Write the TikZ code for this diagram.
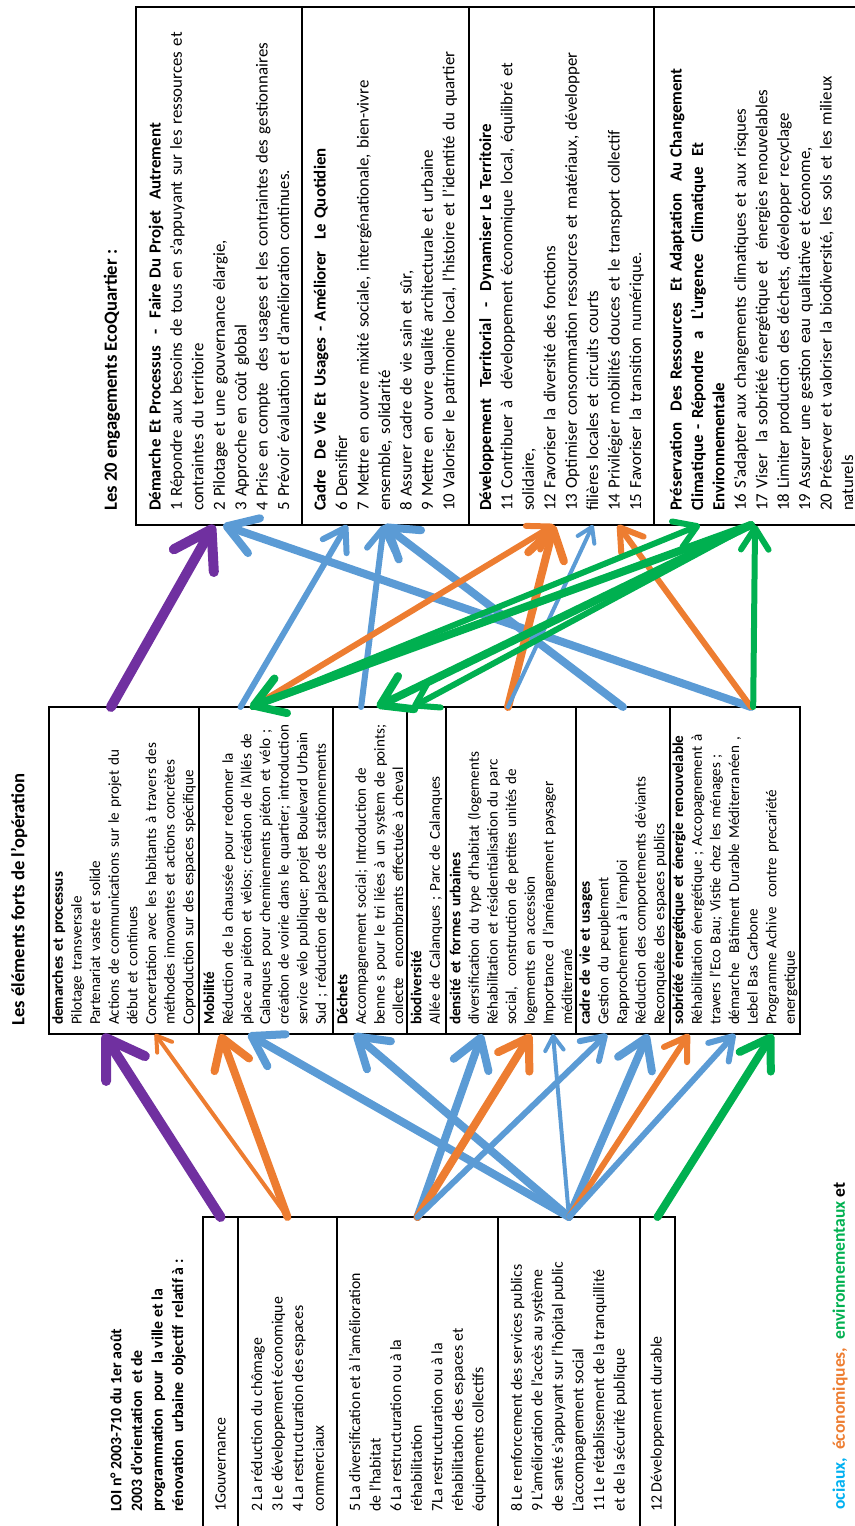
\documentclass[tikz,border=0pt]{standalone}
\usepackage{fontspec}
\setmainfont{Carlito}
\usetikzlibrary{positioning,calc,arrows.meta}
\newlength{\pxu}
\setlength{\pxu}{0.2mm}
\definecolor{purp}{HTML}{7030A0}
\definecolor{blu}{HTML}{5B9BD5}
\definecolor{oran}{HTML}{ED7D31}
\definecolor{gree}{HTML}{00B050}
\definecolor{skyb}{HTML}{00B0F0}
\newcommand\engfont{\fontsize{9.6}{12.2}\selectfont}
\newcommand\opfont{\fontsize{8.6}{10.6}\selectfont}
\newcommand\loifont{\fontsize{9}{11.7}\selectfont}
\tikzset{
  link/.style={-{Straight Barb[round,length=0pt 3.6,width=0pt 4.6]}, line cap=round},
  wfat/.style={line width=10\pxu},
  wbig/.style={line width=8\pxu},
  wmed/.style={line width=6\pxu},
  wsmall/.style={line width=4\pxu}
}

\begin{document}
\begin{tikzpicture}[x=0.2mm, y=0.2mm, rotate=90, transform shape,
  cell/.style={draw, line width=0.7pt, anchor=north west, outer sep=0pt, align=left},
  engcell/.style={cell, minimum width=518\pxu, inner xsep=14\pxu, inner ysep=0pt, text width=490\pxu, font=\engfont},
  opcell/.style={cell, minimum width=327\pxu, inner xsep=9\pxu, inner ysep=0pt, text width=309\pxu, font=\opfont},
  loibox/.style={draw, line width=0.8pt, anchor=north east, outer sep=0pt, minimum width=330\pxu},
  loitext/.style={anchor=west, align=left, inner sep=0pt, font=\loifont},
  heading/.style={anchor=west, inner sep=0pt, font=\fontsize{10.6}{12}\selectfont\bfseries}]

  \useasboundingbox (0,0) rectangle (1526,854);

  % ENGAGEMENTS ECOQUARTIER

  \node[heading] (engtitle) at (1015,742) {Les 20 engagements EcoQuartier :};

  \node[engcell, minimum height=166\pxu] (eng1) at (1001,718)
  {\textbf{Démarche Et Processus \ - \ Faire Du Projet \ Autrement}\\
   1 Répondre aux besoins de tous en s’appuyant sur les ressources et\\
   contraintes du territoire\\
   2 Pilotage et une gouvernance élargie,\\
   3 Approche en coût global\\
   4 Prise en compte \ des usages et les contraintes des gestionnaires\\
   5 Prévoir évaluation et d’amélioration continues.};

  \node[engcell, minimum height=167\pxu, below=0pt of eng1] (eng2)
  {\textbf{Cadre \ De Vie Et Usages - Améliorer \ Le Quotidien}\\
   6 Densifier\\
   7 Mettre en ouvre mixité sociale, intergénationale, bien-vivre\\
   ensemble, solidarité\\
   8 Assurer cadre de vie sain et sûr,\\
   9 Mettre en ouvre qualité architecturale et urbaine\\
   10 Valoriser le patrimoine local, l’histoire et l’identité du quartier};

  \node[engcell, minimum height=185\pxu, below=0pt of eng2] (eng3)
  {\textbf{Développement \ Territorial \ - \ Dynamiser Le Territoire}\\
   11 Contribuer à \ développement économique local, équilibré et\\
   solidaire,\\
   12 Favoriser la diversité des fonctions\\
   13 Optimiser consommation ressources et matériaux, développer\\
   filières locales et circuits courts\\
   14 Privilégier mobilités douces et le transport collectif\\
   15 Favoriser la transition numérique.};

  \node[engcell, minimum height=215\pxu, below=0pt of eng3] (eng4)
  {\textbf{Préservation \ Des Ressources \ Et Adaptation \ Au Changement}\\
   \textbf{Climatique - Répondre \ a \ L’urgence \ Climatique \ Et}\\
   \textbf{Environnementale}\\
   16 S’adapter aux changements climatiques et aux risques\\
   17 Viser \ la sobriété énergétique et \ énergies renouvelables\\
   18 Limiter production des déchets, développer recyclage\\
   19 Assurer une gestion eau qualitative et économe,\\
   20 Préserver et valoriser la biodiversité, les sols et les milieux\\
   naturels};

  % ELEMENTS FORTS DE L'OPERATION

  \node[heading] (optitle) at (500,835) {Les éléments forts de l’opération};

  \node[opcell, minimum height=150\pxu] (dem) at (492,805)
  {\textbf{demarches et processus}\\
   Pilotage transversale\\
   Partenariat vaste et solide\\
   Actions de communications sur le projet du\\
   début et continues\\
   Concertation avec les habitants à travers des\\
   méthodes innovantes et actions concrètes\\
   Coproduction sur des espaces spécifique};

  \node[opcell, minimum height=134\pxu, below=0pt of dem] (mob)
  {\textbf{Mobilité}\\
   Réduction de la chaussée pour redonner la\\
   place au piéton et vélos; création de l’Allés de\\
   Calanques pour cheminements piéton et vélo ;\\
   création de voirie dans le quartier; introduction\\
   service vélo publique; projet Boulevard Urbain\\
   Sud ; réduction de places de stationnements};

  \node[opcell, minimum height=74\pxu, below=0pt of mob] (dech)
  {\textbf{Déchets}\\
   Accompagnement social; Introduction de\\
   benne s pour le tri liées à un system de points;\\
   collecte \ encombrants effectuée à cheval};

  \node[opcell, minimum height=39\pxu, below=0pt of dech] (bio)
  {\textbf{biodiversité}\\
   Allée de Calanques ; Parc de Calanques};

  \node[opcell, minimum height=130\pxu, below=0pt of bio] (dens)
  {\textbf{densité et formes urbaines}\\
   diversification du type d’habitat (logements\\
   Réhabilitation et résidentialisation du parc\\
   social, \ construction de petites unités de\\
   logements en accession\\
   Importance d l’aménagement paysager\\
   méditerrané};

  \node[opcell, minimum height=94\pxu, below=0pt of dens] (cadre)
  {\textbf{cadre de vie et usages}\\
   Gestion du peuplement\\
   Rapprochement à l’emploi\\
   Réduction des comportements déviants\\
   Reconquête des espaces publics};

  \node[opcell, minimum height=130\pxu, below=0pt of cadre] (sobr)
  {\textbf{sobriété énergétique et énergie renouvelable}\\
   Réhabilitation énergétique ; Accopagnement à\\
   travers l’Eco Bau; Vistie chez les ménages ;\\
   démarche \ Bâtiment Durable Méditerranéen ,\\
   Lebel Bas Carbone\\
   Programme Achive \ contre precariété\\
   energetique};

  % LOI 2003-710

  \node[loitext, anchor=north west, font=\loifont\bfseries] (loititle) at (14,744)
  {LOI n° 2003-710 du 1er août\\
   2003 d’orientation \ et de\\
   programmation \ pour \ la ville et la\\
   rénovation \ urbaine \ objectif \ relatif à :};

  \node[loibox, minimum height=35\pxu] (obj1) at (309,651) {};
  \node[loibox, minimum height=99\pxu, below=0pt of obj1] (obj2) {};
  \node[loibox, minimum height=161\pxu, below=0pt of obj2] (obj3) {};
  \node[loibox, minimum height=142\pxu, below=0pt of obj3] (obj4) {};
  \node[loibox, minimum height=35\pxu, below=0pt of obj4] (obj5) {};

  \node[loitext] (objtxt1) at (14,633.5) {1Gouvernance};
  \node[loitext] (objtxt2) at (14,566.5)
  {2 La réduction du chômage\\
   3 Le développement économique\\
   4 La restructuration des espaces\\
   commerciaux};
  \node[loitext] (objtxt3) at (14,436.5)
  {5 La diversification et à l’amélioration\\
   de l’habitat\\
   6 La restructuration ou à la\\
   réhabilitation\\
   7La restructuration ou à la\\
   réhabilitation des espaces et\\
   équipements collectifs};
  \node[loitext] (objtxt4) at (14,285)
  {8 Le renforcement des services publics\\
   9 L’amélioration de l’accès au système\\
   de santé s’appuyant sur l’hôpital public\\
   L’accompagnement social\\
   11 Le rétablissement de la tranquillité\\
   et de la sécurité publique};
  \node[loitext] (objtxt5) at (14,196.5) {12 Développement durable};

  \node[heading, font=\fontsize{10}{12}\selectfont\bfseries] (legend) at (16,14)
  {\textcolor{skyb}{ociaux,} \ \textcolor{oran}{économiques,} \ \textcolor{gree}{environnementaux} et};

  % LOI -> OPERATION

  \draw[link, purp, wfat] (obj1.east) -- ($(dem.north west)!.363!(dem.south west)$);
  \draw[link, oran, wsmall] (obj2.east) -- ($(dem.north west)!.707!(dem.south west)$);
  \draw[link, oran, wbig] (obj2.east) -- ($(mob.north west)!.161!(mob.south west)$);
  \draw[link, blu, wbig] (obj4.east) -- ($(mob.north west)!.366!(mob.south west)$);
  \draw[link, blu, wbig] (obj4.east) -- ($(dech.north west)!.284!(dech.south west)$);
  \draw[link, blu, wbig] (obj3.east) -- ($(dens.north west)!.277!(dens.south west)$);
  \draw[link, oran, wbig] (obj3.east) -- ($(dens.north west)!.654!(dens.south west)$);
  \draw[link, blu, wsmall] (obj4.east) -- ($(dens.north west)!.823!(dens.south west)$);
  \draw[link, blu, wmed] (obj3.east) -- ($(cadre.north west)!.33!(cadre.south west)$);
  \draw[link, blu, wbig] (obj4.east) -- ($(cadre.north west)!.766!(cadre.south west)$);
  \draw[link, oran, wmed] (obj4.east) -- ($(sobr.north west)!.146!(sobr.south west)$);
  \draw[link, blu, wmed] (obj4.east) -- ($(sobr.north west)!.5!(sobr.south west)$);
  \draw[link, gree, wbig] (obj5.east) -- ($(sobr.north west)!.79!(sobr.south west)$);

  % OPERATION -> ENGAGEMENTS

  \draw[link, purp, wfat] ($(dem.north east)!.413!(dem.south east)$) -- ($(eng1.north west)!.47!(eng1.south west)$);
  \draw[link, blu, wbig] ($(sobr.north east)!.623!(sobr.south east)$) -- ($(eng1.north west)!.524!(eng1.south west)$);
  \draw[link, blu, wmed] ($(mob.north east)!.31!(mob.south east)$) -- ($(eng2.north west)!.27!(eng2.south west)$);
  \draw[link, blu, wmed] ($(dech.north east)!.38!(dech.south east)$) -- ($(eng2.north west)!.49!(eng2.south west)$);
  \draw[link, blu, wbig] ($(cadre.north east)!.5!(cadre.south east)$) -- ($(eng2.north west)!.49!(eng2.south west)$);
  \draw[link, oran, wmed] ($(mob.north east)!.40!(mob.south east)$) -- ($(eng3.north west)!.46!(eng3.south west)$);
  \draw[link, oran, wbig] ($(dens.north east)!.477!(dens.south east)$) -- ($(eng3.north west)!.46!(eng3.south west)$);
  \draw[link, blu, wsmall] ($(dens.north east)!.477!(dens.south east)$) -- ($(eng3.north west)!.67!(eng3.south west)$);
  \draw[link, oran, wmed] ($(sobr.north east)!.623!(sobr.south east)$) -- ($(eng3.north west)!.805!(eng3.south west)$);
  \draw[link, gree, wmed] ($(mob.north east)!.40!(mob.south east)$) -- ($(eng4.north west)!.214!(eng4.south west)$);
  \draw[link, gree, wbig] ($(eng4.north west)!.451!(eng4.south west)$) -- ($(mob.north east)!.38!(mob.south east)$);
  \draw[link, gree, wbig] ($(eng4.north west)!.451!(eng4.south west)$) -- ($(dech.north east)!.59!(dech.south east)$);
  \draw[link, gree, wmed] ($(eng4.north west)!.451!(eng4.south west)$) -- ($(bio.north east)!.14!(bio.south east)$);
  \draw[link, gree, wmed] ($(sobr.north east)!.64!(sobr.south east)$) -- ($(eng4.north west)!.47!(eng4.south west)$);

\end{tikzpicture}
\end{document}
